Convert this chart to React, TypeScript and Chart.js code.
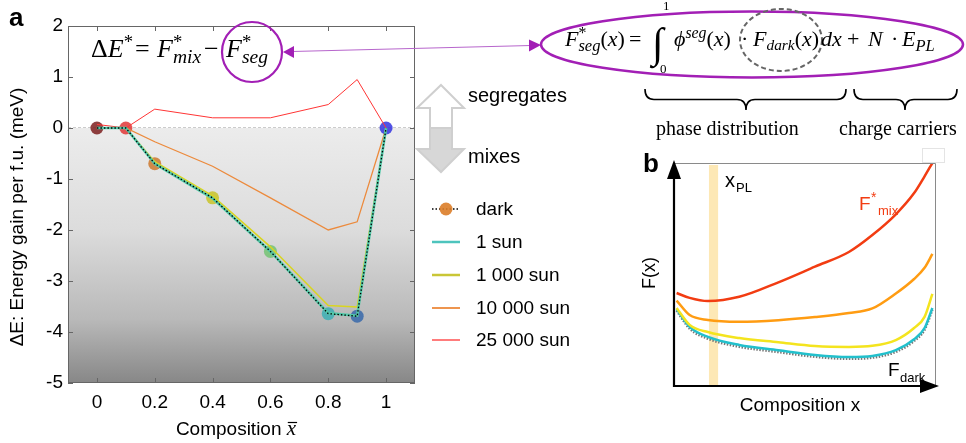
import React, { useEffect, useRef } from 'react';
import { Chart, registerables } from 'chart.js';

Chart.register(...registerables);

// ---------------- Panel a data ----------------
const compositions = [0, 0.1, 0.2, 0.4, 0.6, 0.8, 0.9, 1];
const darkValues = [0, 0, -0.7, -1.37, -2.42, -3.64, -3.69, 0];
const sun1Values = [0, 0, -0.7, -1.38, -2.42, -3.63, -3.68, 0];
const sun1000Values = [0, 0, -0.66, -1.33, -2.33, -3.48, -3.51, 0];
const sun10000Values = [0, 0, -0.27, -0.75, -1.37, -2.0, -1.84, 0];
const sun25000Values = [0.07, 0, 0.37, 0.2, 0.2, 0.46, 0.95, 0];
const markerColors = [
  'rgba(125,30,30,0.85)',
  'rgba(225,55,55,0.85)',
  'rgba(205,120,45,0.85)',
  'rgba(200,195,40,0.85)',
  'rgba(115,195,115,0.85)',
  'rgba(60,175,180,0.85)',
  'rgba(55,105,170,0.85)',
  'rgba(50,50,225,0.85)',
];
const seriesLabels = ['dark', '1 sun', '1 000 sun', '10 000 sun', '25 000 sun'];
const seriesColors = ['#000000', '#4dc4bd', '#c9c636', '#ec8a3c', '#ff3535'];
const xTickValues = [0, 0.2, 0.4, 0.6, 0.8, 1];
const yTickValues = [-5, -4, -3, -2, -1, 0, 1, 2];

// ---------------- Panel b data (schematic) ----------------
const sketchX = [0.01, 0.06, 0.13, 0.25, 0.4, 0.54, 0.67, 0.76, 0.85, 0.92, 0.96, 0.99];
const fMixValues = [4.17, 3.95, 3.81, 4.0, 4.65, 5.35, 6.01, 6.77, 7.7, 8.65, 9.4, 10.0];
const f10000Values = [3.83, 3.18, 2.96, 2.88, 2.95, 3.09, 3.27, 3.48, 4.15, 4.8, 5.3, 5.92];
const f1000Values = [3.5, 2.74, 2.42, 2.15, 1.96, 1.79, 1.75, 1.8, 2.06, 2.6, 3.1, 4.13];
const f1Values = [3.45, 2.65, 2.2, 1.84, 1.6, 1.39, 1.3, 1.35, 1.61, 2.1, 2.6, 3.5];
const fDarkValues = [3.38, 2.57, 2.12, 1.76, 1.52, 1.31, 1.22, 1.27, 1.53, 2.02, 2.52, 3.42];
const sketchColors = ['#f23c12', '#ff9c12', '#f4e41e', '#22c0cc', '#777777'];
const xPLBand = [0.134, 0.169];

const SANS = '"Liberation Sans", Arial, sans-serif';
const SERIF = '"Liberation Serif", "DejaVu Serif", serif';
const PURPLE = '#a21fb5';

function drawBrace(ctx: CanvasRenderingContext2D, x1: number, x2: number, yTop: number, yTip: number, xm: number) {
  const ym = (yTop + yTip) / 2;
  const r = 9;
  ctx.beginPath();
  ctx.moveTo(x1, yTop);
  ctx.quadraticCurveTo(x1, ym, x1 + r, ym);
  ctx.lineTo(xm - r, ym);
  ctx.quadraticCurveTo(xm, ym, xm, yTip);
  ctx.quadraticCurveTo(xm, ym, xm + r, ym);
  ctx.lineTo(x2 - r, ym);
  ctx.quadraticCurveTo(x2, ym, x2, yTop);
  ctx.stroke();
}

const panelAPlugin = {
  id: 'panelA',
  beforeDatasetsDraw(chart: any) {
    const { ctx, chartArea } = chart;
    const { left, top, right, bottom } = chartArea;
    const y0 = chart.scales.y.getPixelForValue(0);
    ctx.save();
    ctx.fillStyle = '#ffffff';
    ctx.fillRect(left, top, right - left, bottom - top);
    const g = ctx.createLinearGradient(0, y0, 0, bottom);
    g.addColorStop(0, '#ececec');
    g.addColorStop(0.4, '#dcdcdc');
    g.addColorStop(0.75, '#b9b9b9');
    g.addColorStop(1, '#878787');
    ctx.fillStyle = g;
    ctx.fillRect(left, y0, right - left, bottom - y0);
    ctx.strokeStyle = '#cccccc';
    ctx.lineWidth = 1;
    ctx.setLineDash([3, 2]);
    ctx.beginPath();
    ctx.moveTo(left, Math.round(y0) - 0.5);
    ctx.lineTo(right, Math.round(y0) - 0.5);
    ctx.stroke();
    ctx.restore();
  },
  afterDraw(chart: any) {
    const { ctx, chartArea } = chart;
    const { left, top, right, bottom } = chartArea;
    const xs = chart.scales.x;
    const ys = chart.scales.y;
    ctx.save();
    // frame
    ctx.strokeStyle = '#666666';
    ctx.lineWidth = 1;
    ctx.strokeRect(left + 0.5, top + 0.5, right - left - 1, bottom - top - 1);
    ctx.beginPath();
    xTickValues.forEach((v) => {
      const px = Math.round(xs.getPixelForValue(v)) + 0.5;
      ctx.moveTo(px, bottom);
      ctx.lineTo(px, bottom - 5);
      ctx.moveTo(px, top);
      ctx.lineTo(px, top + 5);
    });
    yTickValues.forEach((v) => {
      const py = Math.round(ys.getPixelForValue(v)) + 0.5;
      ctx.moveTo(left, py);
      ctx.lineTo(left + 5, py);
      ctx.moveTo(right, py);
      ctx.lineTo(right - 5, py);
    });
    ctx.stroke();

    // axis titles
    ctx.fillStyle = '#000';
    ctx.font = `19px ${SANS}`;
    ctx.save();
    ctx.translate(18, 217);
    ctx.rotate(-Math.PI / 2);
    ctx.textAlign = 'center';
    ctx.textBaseline = 'middle';
    ctx.fillText('ΔE: Energy gain per f.u. (meV)', 0, 0);
    ctx.restore();

    ctx.textAlign = 'left';
    ctx.textBaseline = 'alphabetic';
    const t1 = 'Composition ';
    ctx.font = `19px ${SANS}`;
    const w1 = ctx.measureText(t1).width;
    ctx.font = `italic 21px ${SERIF}`;
    const w2 = ctx.measureText('x').width;
    const sx = 236 - (w1 + w2) / 2;
    ctx.font = `19px ${SANS}`;
    ctx.fillText(t1, sx, 435);
    ctx.font = `italic 21px ${SERIF}`;
    ctx.fillText('x', sx + w1, 435);
    ctx.lineWidth = 1.2;
    ctx.strokeStyle = '#000';
    ctx.beginPath();
    ctx.moveTo(sx + w1 + 1, 422.5);
    ctx.lineTo(sx + w1 + w2 + 1, 422.5);
    ctx.stroke();

    // panel letter
    ctx.font = `bold 26px ${SANS}`;
    ctx.fillText('a', 9, 26);

    // legend
    const legY = [209, 242, 275, 308, 340];
    const legW = [1.3, 2.5, 2.5, 1.8, 1.3];
    seriesLabels.forEach((lab, i) => {
      const y = legY[i];
      ctx.save();
      ctx.strokeStyle = seriesColors[i];
      ctx.lineWidth = legW[i];
      if (i === 0) ctx.setLineDash([1.5, 2]);
      ctx.beginPath();
      ctx.moveTo(432, y);
      ctx.lineTo(460, y);
      ctx.stroke();
      ctx.restore();
      if (i === 0) {
        ctx.fillStyle = 'rgba(220,125,40,0.9)';
        ctx.beginPath();
        ctx.arc(446, y, 6.5, 0, Math.PI * 2);
        ctx.fill();
      }
      ctx.fillStyle = '#000';
      ctx.font = `19px ${SANS}`;
      ctx.textBaseline = 'middle';
      ctx.fillText(lab, 476, y + 1);
    });
    ctx.textBaseline = 'alphabetic';

    // double arrow (segregates / mixes)
    ctx.lineWidth = 2;
    ctx.strokeStyle = '#cfcfcf';
    ctx.fillStyle = '#ffffff';
    ctx.beginPath();
    ctx.moveTo(441, 85);
    ctx.lineTo(464, 108);
    ctx.lineTo(452, 108);
    ctx.lineTo(452, 128);
    ctx.lineTo(430, 128);
    ctx.lineTo(430, 108);
    ctx.lineTo(417, 108);
    ctx.closePath();
    ctx.fill();
    ctx.stroke();
    ctx.fillStyle = '#d7d7d7';
    ctx.beginPath();
    ctx.moveTo(430, 128);
    ctx.lineTo(452, 128);
    ctx.lineTo(452, 149);
    ctx.lineTo(464, 149);
    ctx.lineTo(441, 172);
    ctx.lineTo(417, 149);
    ctx.lineTo(430, 149);
    ctx.closePath();
    ctx.fill();
    ctx.stroke();
    ctx.fillStyle = '#000';
    ctx.font = `20px ${SANS}`;
    ctx.fillText('segregates', 468, 102);
    ctx.fillText('mixes', 468, 163);

    // purple circle around F*seg
    ctx.strokeStyle = PURPLE;
    ctx.lineWidth = 2.2;
    ctx.beginPath();
    ctx.arc(252, 52, 30, 0, Math.PI * 2);
    ctx.stroke();
    // connecting double arrow
    ctx.strokeStyle = '#b766cc';
    ctx.lineWidth = 1.2;
    ctx.beginPath();
    ctx.moveTo(292, 51.5);
    ctx.lineTo(531, 45.5);
    ctx.stroke();
    ctx.fillStyle = PURPLE;
    ctx.beginPath();
    ctx.moveTo(283, 52);
    ctx.lineTo(294, 46);
    ctx.lineTo(294, 58);
    ctx.closePath();
    ctx.fill();
    ctx.beginPath();
    ctx.moveTo(541, 45);
    ctx.lineTo(529, 39.5);
    ctx.lineTo(529, 51.5);
    ctx.closePath();
    ctx.fill();
    // big ellipse
    ctx.strokeStyle = PURPLE;
    ctx.lineWidth = 2.5;
    ctx.beginPath();
    ctx.ellipse(752, 44.5, 211, 33, 0, 0, Math.PI * 2);
    ctx.stroke();
    // dashed ellipse
    ctx.save();
    ctx.strokeStyle = '#666666';
    ctx.lineWidth = 2;
    ctx.setLineDash([5, 3]);
    ctx.beginPath();
    ctx.ellipse(781, 40, 41, 31, 0, 0, Math.PI * 2);
    ctx.stroke();
    ctx.restore();

    // braces
    ctx.strokeStyle = '#000';
    ctx.lineWidth = 1.6;
    drawBrace(ctx, 645, 846, 89, 110, 746);
    drawBrace(ctx, 854, 957, 89, 110, 905);
    ctx.fillStyle = '#000';
    ctx.font = `20px ${SERIF}`;
    ctx.fillText('phase distribution', 656, 135);
    ctx.fillText('charge carriers', 839, 135);

    // faint box top-right
    ctx.strokeStyle = '#e4e4e4';
    ctx.lineWidth = 1;
    ctx.strokeRect(922.5, 148.5, 22, 14);
    ctx.restore();
  },
};

const panelBPlugin = {
  id: 'panelB',
  beforeDatasetsDraw(chart: any) {
    const { ctx, chartArea } = chart;
    const xs = chart.scales.x;
    const x1 = xs.getPixelForValue(xPLBand[0]);
    const x2 = xs.getPixelForValue(xPLBand[1]);
    ctx.save();
    ctx.fillStyle = 'rgba(252,214,120,0.55)';
    ctx.fillRect(x1, chartArea.top + 2, x2 - x1, chartArea.bottom - chartArea.top - 2);
    ctx.restore();
  },
  afterDraw(chart: any) {
    const { ctx } = chart;
    ctx.save();
    ctx.translate(-640, -140);
    // frame top / right
    ctx.strokeStyle = '#8a8a8a';
    ctx.lineWidth = 1;
    ctx.beginPath();
    ctx.moveTo(674, 163.5);
    ctx.lineTo(935.5, 163.5);
    ctx.lineTo(935.5, 386);
    ctx.stroke();
    // axes
    ctx.strokeStyle = '#000';
    ctx.lineWidth = 2.2;
    ctx.beginPath();
    ctx.moveTo(674, 387);
    ctx.lineTo(674, 176);
    ctx.moveTo(673, 386);
    ctx.lineTo(922, 386);
    ctx.stroke();
    ctx.fillStyle = '#000';
    ctx.beginPath();
    ctx.moveTo(674, 160);
    ctx.lineTo(681, 179);
    ctx.lineTo(667, 179);
    ctx.closePath();
    ctx.fill();
    ctx.beginPath();
    ctx.moveTo(939, 386);
    ctx.lineTo(920, 379);
    ctx.lineTo(920, 393);
    ctx.closePath();
    ctx.fill();

    ctx.textAlign = 'left';
    ctx.textBaseline = 'alphabetic';
    ctx.font = `bold 26px ${SANS}`;
    ctx.fillText('b', 643, 172);
    ctx.font = `20px ${SANS}`;
    ctx.fillText('x', 725, 187);
    ctx.font = `13px ${SANS}`;
    ctx.fillText('PL', 736, 192);

    ctx.fillStyle = sketchColors[0];
    ctx.font = `19px ${SANS}`;
    ctx.fillText('F', 859, 210);
    ctx.font = `14px ${SANS}`;
    ctx.fillText('*', 871, 202);
    ctx.font = `13px ${SANS}`;
    ctx.fillText('mix', 878, 215);

    ctx.fillStyle = '#000';
    ctx.font = `19px ${SANS}`;
    ctx.fillText('F', 888, 376);
    ctx.font = `13px ${SANS}`;
    ctx.fillText('dark', 900, 382);

    ctx.save();
    ctx.translate(650, 273);
    ctx.rotate(-Math.PI / 2);
    ctx.textAlign = 'center';
    ctx.textBaseline = 'middle';
    ctx.font = `18px ${SANS}`;
    ctx.fillText('F(x)', 0, 0);
    ctx.restore();

    ctx.textAlign = 'center';
    ctx.font = `19px ${SANS}`;
    ctx.fillText('Composition x', 800, 411);
    ctx.restore();
  },
};

const Up = ({ children }: { children: any }) => <span style={{ fontStyle: 'normal' }}>{children}</span>;
const Sup = ({ children, stack = false, size = 0.72 }: { children: any; stack?: boolean; size?: number }) => (
  <span
    style={{
      position: 'relative',
      top: '-0.5em',
      fontSize: `${size}em`,
      lineHeight: 0,
      display: stack ? 'inline-block' : 'inline',
      width: stack ? 0 : undefined,
      fontStyle: stack ? 'normal' : 'italic',
    }}
  >
    {children}
  </span>
);
const Sub = ({ children, size = 0.75 }: { children: any; size?: number }) => (
  <span style={{ position: 'relative', top: '0.3em', fontSize: `${size}em`, lineHeight: 0 }}>{children}</span>
);

function Piece({ left, baseline, size, italic = true, children }: any) {
  return (
    <div
      style={{
        position: 'absolute',
        left,
        top: baseline - 0.8375 * size,
        fontSize: size,
        lineHeight: 1,
        fontFamily: SERIF,
        fontStyle: italic ? 'italic' : 'normal',
        whiteSpace: 'nowrap',
        color: '#000',
      }}
    >
      {children}
    </div>
  );
}

export default function App() {
  const aRef = useRef<HTMLCanvasElement>(null);
  const bRef = useRef<HTMLCanvasElement>(null);

  useEffect(() => {
    const toPts = (vals: number[]) => compositions.map((x, i) => ({ x, y: vals[i] }));
    const line = (label: string, vals: number[], color: string, width: number, order: number, dash: number[] = []) => ({
      label,
      data: toPts(vals),
      borderColor: color,
      borderWidth: width,
      borderDash: dash,
      pointRadius: 0,
      fill: false,
      tension: 0,
      order,
    });
    const chartA = new Chart(aRef.current as HTMLCanvasElement, {
      type: 'line',
      data: {
        datasets: [
          {
            label: 'markers',
            data: toPts(darkValues),
            showLine: false,
            pointRadius: 6.5,
            pointBackgroundColor: markerColors,
            pointBorderWidth: 0,
            order: 10,
          } as any,
          line(seriesLabels[4], sun25000Values, seriesColors[4], 1, 5),
          line(seriesLabels[3], sun10000Values, seriesColors[3], 1.3, 4),
          line(seriesLabels[2], sun1000Values, '#d9d520', 1.5, 3),
          line(seriesLabels[1], sun1Values, '#52c9a8', 2.6, 2),
          line(seriesLabels[0], darkValues, '#000000', 1.3, 1, [1.5, 2]),
        ],
      },
      options: {
        animation: false,
        responsive: false,
        maintainAspectRatio: false,
        devicePixelRatio: 1,
        layout: { padding: { left: 0, top: 26, right: 551, bottom: 0 } },
        plugins: { legend: { display: false }, tooltip: { enabled: false } },
        scales: {
          x: {
            type: 'linear',
            min: -0.1,
            max: 1.1,
            grid: { display: false, drawTicks: false },
            border: { display: false },
            afterBuildTicks: (s: any) => {
              s.ticks = xTickValues.map((v) => ({ value: v }));
            },
            afterFit: (s: any) => {
              s.height = 60;
            },
            ticks: {
              padding: 8,
              color: '#000',
              autoSkip: false,
              maxRotation: 0,
              font: { family: SANS, size: 19 },
              callback: (v: any) => String(v),
            },
          },
          y: {
            type: 'linear',
            min: -5,
            max: 2,
            grid: { display: false, drawTicks: false },
            border: { display: false },
            afterBuildTicks: (s: any) => {
              s.ticks = yTickValues.map((v) => ({ value: v }));
            },
            afterFit: (s: any) => {
              s.width = 68;
            },
            ticks: {
              padding: 5,
              color: '#000',
              autoSkip: false,
              font: { family: SANS, size: 19 },
              callback: (v: any) => String(v),
            },
          },
        },
      } as any,
      plugins: [panelAPlugin],
    });

    const toSketch = (vals: number[]) => sketchX.map((x, i) => ({ x, y: vals[i] }));
    const sk = (vals: number[], color: string, width: number, order: number, dash: number[] = []) => ({
      data: toSketch(vals),
      borderColor: color,
      borderWidth: width,
      borderDash: dash,
      pointRadius: 0,
      fill: false,
      cubicInterpolationMode: 'monotone',
      order,
    });
    const chartB = new Chart(bRef.current as HTMLCanvasElement, {
      type: 'line',
      data: {
        datasets: [
          sk(fDarkValues, sketchColors[4], 2.5, 5, [1.5, 1.5]),
          sk(f1Values, sketchColors[3], 2.5, 4),
          sk(f1000Values, sketchColors[2], 2.5, 3),
          sk(f10000Values, sketchColors[1], 2.5, 2),
          sk(fMixValues, sketchColors[0], 2.5, 1),
        ] as any,
      },
      options: {
        animation: false,
        responsive: false,
        maintainAspectRatio: false,
        devicePixelRatio: 1,
        layout: { padding: { left: 34, top: 23, right: 31, bottom: 57 } },
        plugins: { legend: { display: false }, tooltip: { enabled: false } },
        scales: {
          x: { type: 'linear', min: 0, max: 1, display: false },
          y: { type: 'linear', min: 0, max: 10, display: false },
        },
      } as any,
      plugins: [panelBPlugin],
    });

    return () => {
      chartA.destroy();
      chartB.destroy();
    };
  }, []);

  return (
    <div style={{ position: 'fixed', left: 0, top: 0, width: 966, height: 443, background: '#fff', overflow: 'hidden' }}>
      <canvas ref={aRef} width={966} height={443} style={{ position: 'absolute', left: 0, top: 0, width: 966, height: 443 }} />
      <canvas ref={bRef} width={326} height={303} style={{ position: 'absolute', left: 640, top: 140, width: 326, height: 303 }} />

      {/* formula in panel a */}
      <Piece left={91} baseline={58} size={26}>
        <Up>Δ</Up>E<Sup stack>*</Sup>
      </Piece>
      <Piece left={135} baseline={58} size={26} italic={false}>=</Piece>
      <Piece left={157} baseline={58} size={26}>
        F<Sup stack>*</Sup><Sub>mix</Sub>
      </Piece>
      <Piece left={204} baseline={58} size={26} italic={false}>−</Piece>
      <Piece left={226} baseline={58} size={26}>
        F<Sup stack>*</Sup><Sub>seg</Sub>
      </Piece>

      {/* formula for F*seg */}
      <Piece left={565} baseline={46} size={22}>
        F<Sup stack>*</Sup><Sub>seg</Sub><Up>(</Up>x<Up>)</Up>
      </Piece>
      <Piece left={629} baseline={46} size={22} italic={false}>=</Piece>
      <Piece left={652} baseline={57} size={42} italic={false}>∫</Piece>
      <Piece left={663} baseline={10} size={13} italic={false}>1</Piece>
      <Piece left={660} baseline={73} size={13} italic={false}>0</Piece>
      <Piece left={674} baseline={46} size={22}>
        ϕ<Sup>seg</Sup><Up>(</Up>x<Up>)</Up>
      </Piece>
      <Piece left={741} baseline={46} size={22} italic={false}>·</Piece>
      <Piece left={753} baseline={46} size={22}>
        F<Sub size={0.7}>dark</Sub><Up>(</Up>x<Up>)</Up>
      </Piece>
      <Piece left={821} baseline={46} size={22}>dx</Piece>
      <Piece left={847} baseline={46} size={22} italic={false}>+</Piece>
      <Piece left={868} baseline={46} size={22}>N</Piece>
      <Piece left={891} baseline={46} size={22} italic={false}>·</Piece>
      <Piece left={902} baseline={46} size={22}>
        E<Sub>PL</Sub>
      </Piece>
    </div>
  );
}
